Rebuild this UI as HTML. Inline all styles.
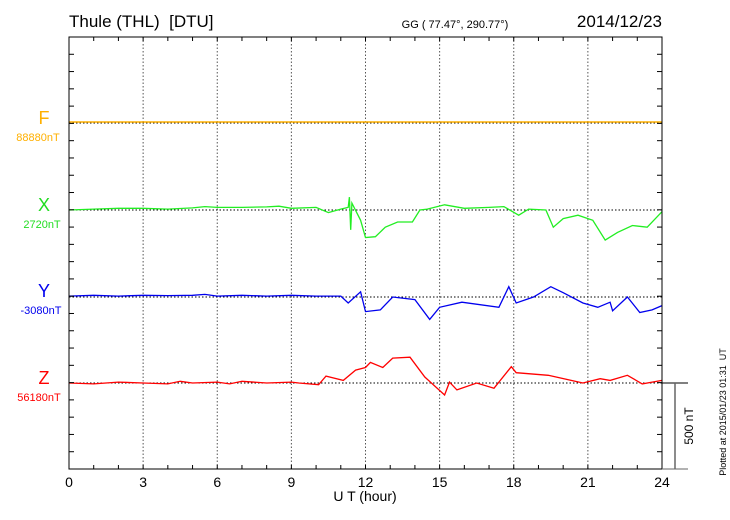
<!DOCTYPE html>
<html><head><meta charset="utf-8"><style>
body{margin:0;background:#fff;}
svg{display:block;font-family:"Liberation Sans",sans-serif;}
</style></head><body>
<svg id="chart" width="730" height="520">
<text x="69" y="27" font-size="17">Thule (THL)&#160;&#160;[DTU]</text>
<text x="455" y="28" font-size="11" text-anchor="middle">GG ( 77.47°, 290.77°)</text>
<text x="662" y="27" font-size="17" text-anchor="end">2014/12/23</text>
<g id="grid"></g>
<g id="series"></g>
<rect x="69" y="37" width="593" height="432" fill="none" stroke="#000" stroke-width="1"/>
<g id="axes"></g>
<text x="44" y="124" font-size="18" fill="#ffb000" text-anchor="middle">F</text>
<text x="38" y="141" font-size="11" fill="#ffb000" text-anchor="middle">88880nT</text>
<text x="44" y="211" font-size="18" fill="#22dd22" text-anchor="middle">X</text>
<text x="42" y="228" font-size="11" fill="#22dd22" text-anchor="middle">2720nT</text>
<text x="44" y="297" font-size="18" fill="#0000ee" text-anchor="middle">Y</text>
<text x="41" y="314" font-size="11" fill="#0000ee" text-anchor="middle">-3080nT</text>
<text x="44" y="384" font-size="18" fill="#ff0000" text-anchor="middle">Z</text>
<text x="39" y="401" font-size="11" fill="#ff0000" text-anchor="middle">56180nT</text>
<text x="365" y="501" font-size="14" text-anchor="middle">U T (hour)</text>
<g>
<line x1="662" y1="383" x2="688" y2="383" stroke="#000"/>
<line x1="675" y1="383" x2="675" y2="469" stroke="#666" stroke-width="1.5"/>
<line x1="662" y1="469" x2="688" y2="469" stroke="#666"/>
</g>
<text transform="translate(693,426) rotate(-90)" font-size="12" text-anchor="middle">500 nT</text>
<text transform="translate(726,412) rotate(-90)" font-size="9" text-anchor="middle">Plotted at 2015/01/23 01:31&#160;&#160;UT</text>
</svg>
<script>
const xTicks=[0,3,6,9,12,15,18,21,24];
const fTimes=[0,24];
const fValues=[0,0];
const xTimes=[0,1,2,3,4,5,5.5,6,7,8,8.5,9,10,10.5,11,11.3,11.35,11.4,11.45,11.8,12.0,12.4,12.8,13.3,13.9,14.2,14.5,15.2,16,17,17.6,18.2,18.6,19.3,19.6,20,20.6,21.2,21.7,22.2,22.8,23.4,24];
const xValues=[0,5,10,10,5,12,20,15,15,18,22,10,15,-15,5,15,75,-115,40,-60,-160,-155,-100,-70,-70,0,5,30,10,15,20,-30,5,0,-100,-50,-30,-60,-175,-130,-90,-100,-10];
const yTimes=[0,1,2,3,4,5,5.5,6,7,8,9,10,11,11.3,11.8,12.0,12.6,13.1,14.0,14.6,15.0,15.9,17.4,17.8,18.1,18.8,19.5,20,20.8,21.4,21.9,22.0,22.6,23.1,23.6,24];
const yValues=[5,10,5,10,8,10,15,5,10,5,10,5,5,-35,30,-85,-75,0,-15,-130,-60,-30,-60,60,-35,0,60,25,-35,-60,-30,-80,0,-90,-75,-50];
const zTimes=[0,1,2,3,4,4.5,5,6,6.5,7,8,9,9.3,10.1,10.4,11.1,11.6,12,12.2,12.7,13.1,13.8,14.4,15.2,15.4,15.7,16.5,17.2,17.9,18.1,19.4,20.8,21.5,21.9,22.6,23.2,24];
const zValues=[0,-5,5,0,-5,10,0,5,-5,10,0,5,0,-10,40,15,75,90,120,90,145,150,35,-70,5,-40,0,-30,95,60,45,0,25,15,45,-5,15];
const NS="http://www.w3.org/2000/svg";
const X0=69,X1=662,Y0=37,Y1=469;
const pxPerNT=86/500;
function xs(h){return X0+(X1-X0)*h/24;}
function ys(base,v){return base-v*pxPerNT;}
const grid=document.getElementById('grid'),axes=document.getElementById('axes'),ser=document.getElementById('series');
function ln(p,x1,y1,x2,y2,st,dash,name){const l=document.createElementNS(NS,'line');l.setAttribute('x1',x1);l.setAttribute('y1',y1);l.setAttribute('x2',x2);l.setAttribute('y2',y2);l.setAttribute('stroke',st);if(dash)l.setAttribute('stroke-dasharray',dash);


p.appendChild(l);}
xTicks.forEach(h=>{if(h>0&&h<24)ln(grid,xs(h),Y0,xs(h),Y1,'#555','1.5,2','v-grid');
const t=document.createElementNS(NS,'text');t.setAttribute('x',xs(h));t.setAttribute('y',487);t.setAttribute('font-size','14');t.setAttribute('text-anchor','middle');t.textContent=h;


axes.appendChild(t);});
for(let h=1;h<24;h++){ln(axes,xs(h),Y0,xs(h),Y0+4,'#000',null,'x-tick');ln(axes,xs(h),Y1,xs(h),Y1-4,'#000',null,'x-tick');}
for(let y=Y0+17.28;y<Y1-1;y+=17.28){ln(axes,X0,y,X0+5,y,'#000',null,'y-tick');ln(axes,X1,y,X1-5,y,'#000',null,'y-tick');}
const bases=[123,210,297,383];
bases.forEach(b=>ln(grid,X0,b,X1,b,'#000','1.5,2','baseline'));
function draw(times,vals,base,color,name,w){const p=document.createElementNS(NS,'polyline');p.setAttribute('points',times.map((t,i)=>xs(t).toFixed(1)+','+ys(base,vals[i]).toFixed(1)).join(' '));p.setAttribute('fill','none');p.setAttribute('stroke',color);p.setAttribute('stroke-width',w);


ser.appendChild(p);}
draw(fTimes,fValues,122,'#ffb000','f-series','1.5');
draw(xTimes,xValues,210,'#22ee22','x-series','1.3');
draw(yTimes,yValues,297,'#0000ee','y-series','1.3');
draw(zTimes,zValues,383,'#ff0000','z-series','1.3');
</script>
</body></html>
